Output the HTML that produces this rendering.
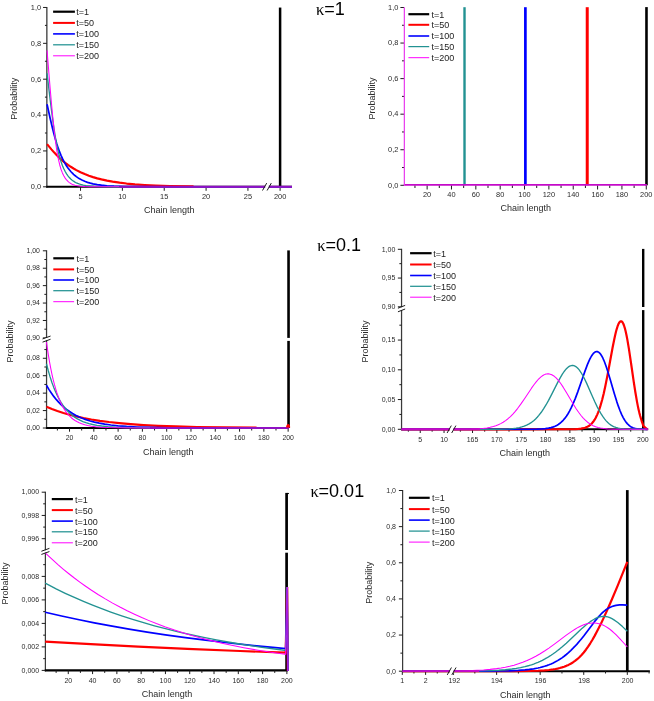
<!DOCTYPE html>
<html><head><meta charset="utf-8"><title>Chain length probability</title>
<style>html,body{margin:0;padding:0;background:#fff;}body{width:654px;height:701px;overflow:hidden;font-family:"Liberation Sans",sans-serif;}svg{display:block;will-change:transform;}</style></head>
<body>
<svg width="654" height="701" viewBox="0 0 654 701">
<rect width="654" height="701" fill="#ffffff"/>
<line x1="46.85" y1="6.96" x2="46.85" y2="187.8" stroke="#3a3a3a" stroke-width="1.3" stroke-linecap="butt"/>
<line x1="46.2" y1="186.8" x2="292" y2="186.8" stroke="#000000" stroke-width="2" stroke-linecap="butt"/>
<line x1="43.05" y1="186.8" x2="46.85" y2="186.8" stroke="#1c1c1c" stroke-width="1" stroke-linecap="butt"/>
<text x="41.15" y="189.2" font-size="7.4" text-anchor="end" font-family="'Liberation Sans', sans-serif" fill="#2b2b2b">0,0</text>
<line x1="44.95" y1="168.87" x2="46.85" y2="168.87" stroke="#1c1c1c" stroke-width="1" stroke-linecap="butt"/>
<line x1="43.05" y1="150.93" x2="46.85" y2="150.93" stroke="#1c1c1c" stroke-width="1" stroke-linecap="butt"/>
<text x="41.15" y="153.33" font-size="7.4" text-anchor="end" font-family="'Liberation Sans', sans-serif" fill="#2b2b2b">0,2</text>
<line x1="44.95" y1="133" x2="46.85" y2="133" stroke="#1c1c1c" stroke-width="1" stroke-linecap="butt"/>
<line x1="43.05" y1="115.06" x2="46.85" y2="115.06" stroke="#1c1c1c" stroke-width="1" stroke-linecap="butt"/>
<text x="41.15" y="117.46" font-size="7.4" text-anchor="end" font-family="'Liberation Sans', sans-serif" fill="#2b2b2b">0,4</text>
<line x1="44.95" y1="97.13" x2="46.85" y2="97.13" stroke="#1c1c1c" stroke-width="1" stroke-linecap="butt"/>
<line x1="43.05" y1="79.2" x2="46.85" y2="79.2" stroke="#1c1c1c" stroke-width="1" stroke-linecap="butt"/>
<text x="41.15" y="81.6" font-size="7.4" text-anchor="end" font-family="'Liberation Sans', sans-serif" fill="#2b2b2b">0,6</text>
<line x1="44.95" y1="61.26" x2="46.85" y2="61.26" stroke="#1c1c1c" stroke-width="1" stroke-linecap="butt"/>
<line x1="43.05" y1="43.33" x2="46.85" y2="43.33" stroke="#1c1c1c" stroke-width="1" stroke-linecap="butt"/>
<text x="41.15" y="45.73" font-size="7.4" text-anchor="end" font-family="'Liberation Sans', sans-serif" fill="#2b2b2b">0,8</text>
<line x1="44.95" y1="25.39" x2="46.85" y2="25.39" stroke="#1c1c1c" stroke-width="1" stroke-linecap="butt"/>
<line x1="43.05" y1="7.46" x2="46.85" y2="7.46" stroke="#1c1c1c" stroke-width="1" stroke-linecap="butt"/>
<text x="41.15" y="9.86" font-size="7.4" text-anchor="end" font-family="'Liberation Sans', sans-serif" fill="#2b2b2b">1,0</text>
<line x1="80.53" y1="186.8" x2="80.53" y2="190.8" stroke="#1c1c1c" stroke-width="1" stroke-linecap="butt"/>
<text x="80.53" y="199.2" font-size="7.4" text-anchor="middle" font-family="'Liberation Sans', sans-serif" fill="#2b2b2b">5</text>
<line x1="122.38" y1="186.8" x2="122.38" y2="190.8" stroke="#1c1c1c" stroke-width="1" stroke-linecap="butt"/>
<text x="122.38" y="199.2" font-size="7.4" text-anchor="middle" font-family="'Liberation Sans', sans-serif" fill="#2b2b2b">10</text>
<line x1="164.23" y1="186.8" x2="164.23" y2="190.8" stroke="#1c1c1c" stroke-width="1" stroke-linecap="butt"/>
<text x="164.23" y="199.2" font-size="7.4" text-anchor="middle" font-family="'Liberation Sans', sans-serif" fill="#2b2b2b">15</text>
<line x1="206.08" y1="186.8" x2="206.08" y2="190.8" stroke="#1c1c1c" stroke-width="1" stroke-linecap="butt"/>
<text x="206.08" y="199.2" font-size="7.4" text-anchor="middle" font-family="'Liberation Sans', sans-serif" fill="#2b2b2b">20</text>
<line x1="247.93" y1="186.8" x2="247.93" y2="190.8" stroke="#1c1c1c" stroke-width="1" stroke-linecap="butt"/>
<text x="247.93" y="199.2" font-size="7.4" text-anchor="middle" font-family="'Liberation Sans', sans-serif" fill="#2b2b2b">25</text>
<line x1="280.1" y1="186.8" x2="280.1" y2="190.8" stroke="#1c1c1c" stroke-width="1" stroke-linecap="butt"/>
<text x="280.1" y="199.2" font-size="7.4" text-anchor="middle" font-family="'Liberation Sans', sans-serif" fill="#2b2b2b">200</text>
<text x="169.2" y="213" font-size="9" text-anchor="middle" font-family="'Liberation Sans', sans-serif" fill="#2b2b2b">Chain length</text>
<text transform="translate(17.1 98.7) rotate(-90)" font-size="9" text-anchor="middle" font-family="'Liberation Sans', sans-serif" fill="#2b2b2b">Probability</text>
<line x1="280.1" y1="7.56" x2="280.1" y2="186.8" stroke="#000000" stroke-width="2.5" stroke-linecap="butt"/>
<path d="M47.05 144.12 L51.41 149.36 L54.03 152.36 L56.81 155.33 L59.6 158.06 L62.39 160.55 L65.18 162.82 L67.97 164.9 L70.77 166.8 L73.55 168.53 L76.35 170.11 L80.53 172.23 L84.71 174.08 L88.9 175.7 L93.08 177.11 L97.27 178.34 L101.45 179.42 L107.03 180.64 L112.61 181.66 L119.59 182.7 L126.56 183.53 L134.94 184.31 L144.7 184.99 L155.86 185.54 L169.81 186 L189.34 186.37 L193.52 186.43" fill="none" stroke="#ff0000" stroke-width="2.2" stroke-linejoin="round" stroke-linecap="butt"/>
<path d="M47.05 104.3 L50.25 118.72 L52.68 128.97 L54.03 134.27 L55.42 139.34 L56.81 143.98 L58.21 148.16 L59.6 151.94 L61 155.34 L62.39 158.41 L63.79 161.17 L65.18 163.68 L66.58 165.94 L67.97 167.97 L69.37 169.81 L70.77 171.47 L72.16 172.96 L73.55 174.31 L74.95 175.53 L76.35 176.63 L77.74 177.63 L79.14 178.52 L80.53 179.33 L81.92 180.06 L84.71 181.31 L87.5 182.33 L90.3 183.16 L93.08 183.84 L97.27 184.62 L101.45 185.2 L107.03 185.74 L114.01 186.16 L123.77 186.49 L139.12 186.7 L176.78 186.79 L292 186.8" fill="none" stroke="#0000ff" stroke-width="1.7" stroke-linejoin="round" stroke-linecap="butt"/>
<path d="M47.05 73.28 L50.25 100.5 L51.41 109.76 L52.68 119.38 L54.03 128.83 L55.42 137.56 L56.81 145.13 L58.21 151.58 L59.6 157.03 L61 161.61 L62.39 165.47 L63.79 168.73 L65.18 171.51 L66.58 173.87 L67.97 175.87 L69.37 177.56 L70.77 178.97 L72.16 180.17 L73.55 181.19 L74.95 182.06 L76.35 182.79 L77.74 183.41 L79.14 183.93 L80.53 184.37 L83.32 185.06 L86.11 185.56 L90.3 186.04 L94.48 186.34 L101.45 186.6 L114.01 186.76 L200.5 186.8 L292 186.8" fill="none" stroke="#229292" stroke-width="1.35" stroke-linejoin="round" stroke-linecap="butt"/>
<path d="M47.05 50.5 L50.25 89.66 L51.41 102.81 L52.68 116.31 L54.03 129.31 L55.42 140.97 L56.81 150.62 L58.21 158.37 L59.6 164.49 L61 169.24 L62.39 172.92 L63.79 175.8 L65.18 178.12 L66.58 179.98 L67.97 181.44 L69.37 182.59 L70.77 183.47 L72.16 184.16 L73.55 184.72 L74.95 185.16 L76.35 185.51 L77.74 185.79 L80.53 186.17 L84.71 186.49 L90.3 186.68 L102.85 186.79 L292 186.8" fill="none" stroke="#ff00ff" stroke-width="1.05" stroke-linejoin="round" stroke-linecap="butt"/>
<line x1="119" y1="186.75" x2="292" y2="186.75" stroke="#9010c4" stroke-width="1.9" stroke-linecap="butt"/>
<rect x="265.2" y="184.6" width="3.6" height="4.4" fill="#fff"/>
<line x1="262.5" y1="190.5" x2="266.7" y2="183.1" stroke="#1c1c1c" stroke-width="1" stroke-linecap="butt"/>
<line x1="267.1" y1="190.5" x2="271.3" y2="183.1" stroke="#1c1c1c" stroke-width="1" stroke-linecap="butt"/>
<line x1="53.1" y1="11.7" x2="74.9" y2="11.7" stroke="#000000" stroke-width="2.2" stroke-linecap="butt"/>
<text x="76.3" y="15.1" font-size="9" text-anchor="start" font-family="'Liberation Sans', sans-serif" fill="#1c1c1c">t=1</text>
<line x1="53.1" y1="22.9" x2="74.9" y2="22.9" stroke="#ff0000" stroke-width="2" stroke-linecap="butt"/>
<text x="76.3" y="26.3" font-size="9" text-anchor="start" font-family="'Liberation Sans', sans-serif" fill="#1c1c1c">t=50</text>
<line x1="53.1" y1="33.9" x2="74.9" y2="33.9" stroke="#0000ff" stroke-width="1.6" stroke-linecap="butt"/>
<text x="76.3" y="37.3" font-size="9" text-anchor="start" font-family="'Liberation Sans', sans-serif" fill="#1c1c1c">t=100</text>
<line x1="53.1" y1="44.8" x2="74.9" y2="44.8" stroke="#229292" stroke-width="1.25" stroke-linecap="butt"/>
<text x="76.3" y="48.2" font-size="9" text-anchor="start" font-family="'Liberation Sans', sans-serif" fill="#1c1c1c">t=150</text>
<line x1="53.1" y1="55.8" x2="74.9" y2="55.8" stroke="#ff00ff" stroke-width="1" stroke-linecap="butt"/>
<text x="76.3" y="59.2" font-size="9" text-anchor="start" font-family="'Liberation Sans', sans-serif" fill="#1c1c1c">t=200</text>
<text x="316" y="15" font-size="16.5" text-anchor="start" font-family="'Liberation Serif', sans-serif" fill="#000">&#954;</text>
<text x="324.3" y="15" font-size="18" text-anchor="start" font-family="'Liberation Sans', sans-serif" fill="#000">=1</text>
<line x1="400.4" y1="185.3" x2="404" y2="185.3" stroke="#1c1c1c" stroke-width="1" stroke-linecap="butt"/>
<text x="398.4" y="187.6" font-size="7.4" text-anchor="end" font-family="'Liberation Sans', sans-serif" fill="#2b2b2b">0,0</text>
<line x1="402" y1="167.52" x2="404" y2="167.52" stroke="#1c1c1c" stroke-width="1" stroke-linecap="butt"/>
<line x1="400.4" y1="149.74" x2="404" y2="149.74" stroke="#1c1c1c" stroke-width="1" stroke-linecap="butt"/>
<text x="398.4" y="152.04" font-size="7.4" text-anchor="end" font-family="'Liberation Sans', sans-serif" fill="#2b2b2b">0,2</text>
<line x1="402" y1="131.96" x2="404" y2="131.96" stroke="#1c1c1c" stroke-width="1" stroke-linecap="butt"/>
<line x1="400.4" y1="114.18" x2="404" y2="114.18" stroke="#1c1c1c" stroke-width="1" stroke-linecap="butt"/>
<text x="398.4" y="116.48" font-size="7.4" text-anchor="end" font-family="'Liberation Sans', sans-serif" fill="#2b2b2b">0,4</text>
<line x1="402" y1="96.4" x2="404" y2="96.4" stroke="#1c1c1c" stroke-width="1" stroke-linecap="butt"/>
<line x1="400.4" y1="78.62" x2="404" y2="78.62" stroke="#1c1c1c" stroke-width="1" stroke-linecap="butt"/>
<text x="398.4" y="80.92" font-size="7.4" text-anchor="end" font-family="'Liberation Sans', sans-serif" fill="#2b2b2b">0,6</text>
<line x1="402" y1="60.84" x2="404" y2="60.84" stroke="#1c1c1c" stroke-width="1" stroke-linecap="butt"/>
<line x1="400.4" y1="43.06" x2="404" y2="43.06" stroke="#1c1c1c" stroke-width="1" stroke-linecap="butt"/>
<text x="398.4" y="45.36" font-size="7.4" text-anchor="end" font-family="'Liberation Sans', sans-serif" fill="#2b2b2b">0,8</text>
<line x1="402" y1="25.28" x2="404" y2="25.28" stroke="#1c1c1c" stroke-width="1" stroke-linecap="butt"/>
<line x1="400.4" y1="7.5" x2="404" y2="7.5" stroke="#1c1c1c" stroke-width="1" stroke-linecap="butt"/>
<text x="398.4" y="9.8" font-size="7.4" text-anchor="end" font-family="'Liberation Sans', sans-serif" fill="#2b2b2b">1,0</text>
<line x1="414.96" y1="185.3" x2="414.96" y2="188" stroke="#1c1c1c" stroke-width="1" stroke-linecap="butt"/>
<line x1="427.13" y1="185.3" x2="427.13" y2="189.5" stroke="#1c1c1c" stroke-width="1" stroke-linecap="butt"/>
<text x="427.13" y="197.4" font-size="7.4" text-anchor="middle" font-family="'Liberation Sans', sans-serif" fill="#2b2b2b">20</text>
<line x1="439.31" y1="185.3" x2="439.31" y2="188" stroke="#1c1c1c" stroke-width="1" stroke-linecap="butt"/>
<line x1="451.48" y1="185.3" x2="451.48" y2="189.5" stroke="#1c1c1c" stroke-width="1" stroke-linecap="butt"/>
<text x="451.48" y="197.4" font-size="7.4" text-anchor="middle" font-family="'Liberation Sans', sans-serif" fill="#2b2b2b">40</text>
<line x1="463.66" y1="185.3" x2="463.66" y2="188" stroke="#1c1c1c" stroke-width="1" stroke-linecap="butt"/>
<line x1="475.83" y1="185.3" x2="475.83" y2="189.5" stroke="#1c1c1c" stroke-width="1" stroke-linecap="butt"/>
<text x="475.83" y="197.4" font-size="7.4" text-anchor="middle" font-family="'Liberation Sans', sans-serif" fill="#2b2b2b">60</text>
<line x1="488.01" y1="185.3" x2="488.01" y2="188" stroke="#1c1c1c" stroke-width="1" stroke-linecap="butt"/>
<line x1="500.18" y1="185.3" x2="500.18" y2="189.5" stroke="#1c1c1c" stroke-width="1" stroke-linecap="butt"/>
<text x="500.18" y="197.4" font-size="7.4" text-anchor="middle" font-family="'Liberation Sans', sans-serif" fill="#2b2b2b">80</text>
<line x1="512.36" y1="185.3" x2="512.36" y2="188" stroke="#1c1c1c" stroke-width="1" stroke-linecap="butt"/>
<line x1="524.53" y1="185.3" x2="524.53" y2="189.5" stroke="#1c1c1c" stroke-width="1" stroke-linecap="butt"/>
<text x="524.53" y="197.4" font-size="7.4" text-anchor="middle" font-family="'Liberation Sans', sans-serif" fill="#2b2b2b">100</text>
<line x1="536.71" y1="185.3" x2="536.71" y2="188" stroke="#1c1c1c" stroke-width="1" stroke-linecap="butt"/>
<line x1="548.88" y1="185.3" x2="548.88" y2="189.5" stroke="#1c1c1c" stroke-width="1" stroke-linecap="butt"/>
<text x="548.88" y="197.4" font-size="7.4" text-anchor="middle" font-family="'Liberation Sans', sans-serif" fill="#2b2b2b">120</text>
<line x1="561.06" y1="185.3" x2="561.06" y2="188" stroke="#1c1c1c" stroke-width="1" stroke-linecap="butt"/>
<line x1="573.23" y1="185.3" x2="573.23" y2="189.5" stroke="#1c1c1c" stroke-width="1" stroke-linecap="butt"/>
<text x="573.23" y="197.4" font-size="7.4" text-anchor="middle" font-family="'Liberation Sans', sans-serif" fill="#2b2b2b">140</text>
<line x1="585.41" y1="185.3" x2="585.41" y2="188" stroke="#1c1c1c" stroke-width="1" stroke-linecap="butt"/>
<line x1="597.58" y1="185.3" x2="597.58" y2="189.5" stroke="#1c1c1c" stroke-width="1" stroke-linecap="butt"/>
<text x="597.58" y="197.4" font-size="7.4" text-anchor="middle" font-family="'Liberation Sans', sans-serif" fill="#2b2b2b">160</text>
<line x1="609.76" y1="185.3" x2="609.76" y2="188" stroke="#1c1c1c" stroke-width="1" stroke-linecap="butt"/>
<line x1="621.93" y1="185.3" x2="621.93" y2="189.5" stroke="#1c1c1c" stroke-width="1" stroke-linecap="butt"/>
<text x="621.93" y="197.4" font-size="7.4" text-anchor="middle" font-family="'Liberation Sans', sans-serif" fill="#2b2b2b">180</text>
<line x1="634.11" y1="185.3" x2="634.11" y2="188" stroke="#1c1c1c" stroke-width="1" stroke-linecap="butt"/>
<line x1="646.28" y1="185.3" x2="646.28" y2="189.5" stroke="#1c1c1c" stroke-width="1" stroke-linecap="butt"/>
<text x="646.28" y="197.4" font-size="7.4" text-anchor="middle" font-family="'Liberation Sans', sans-serif" fill="#2b2b2b">200</text>
<text x="525.8" y="211.2" font-size="9" text-anchor="middle" font-family="'Liberation Sans', sans-serif" fill="#2b2b2b">Chain length</text>
<text transform="translate(374.5 98.6) rotate(-90)" font-size="9" text-anchor="middle" font-family="'Liberation Sans', sans-serif" fill="#2b2b2b">Probability</text>
<line x1="646.48" y1="7.1" x2="646.48" y2="185.3" stroke="#000000" stroke-width="2.6" stroke-linecap="butt"/>
<line x1="587.23" y1="7.2" x2="587.23" y2="185.3" stroke="#ff0000" stroke-width="3" stroke-linecap="butt"/>
<line x1="525.38" y1="7.2" x2="525.38" y2="185.3" stroke="#0000ff" stroke-width="2.7" stroke-linecap="butt"/>
<line x1="464.51" y1="7.2" x2="464.51" y2="185.3" stroke="#229292" stroke-width="2.4" stroke-linecap="butt"/>
<line x1="403.8" y1="184.9" x2="646.88" y2="184.9" stroke="#c40ac8" stroke-width="1.8" stroke-linecap="butt"/>
<line x1="404.35" y1="7.2" x2="404.35" y2="185.8" stroke="#e838ee" stroke-width="1.2" stroke-linecap="butt"/>
<line x1="408.4" y1="14.2" x2="429.2" y2="14.2" stroke="#000000" stroke-width="2.2" stroke-linecap="butt"/>
<text x="431.5" y="17.6" font-size="9" text-anchor="start" font-family="'Liberation Sans', sans-serif" fill="#1c1c1c">t=1</text>
<line x1="408.4" y1="24.8" x2="429.2" y2="24.8" stroke="#ff0000" stroke-width="2" stroke-linecap="butt"/>
<text x="431.5" y="28.2" font-size="9" text-anchor="start" font-family="'Liberation Sans', sans-serif" fill="#1c1c1c">t=50</text>
<line x1="408.4" y1="36" x2="429.2" y2="36" stroke="#0000ff" stroke-width="1.6" stroke-linecap="butt"/>
<text x="431.5" y="39.4" font-size="9" text-anchor="start" font-family="'Liberation Sans', sans-serif" fill="#1c1c1c">t=100</text>
<line x1="408.4" y1="46.6" x2="429.2" y2="46.6" stroke="#229292" stroke-width="1.25" stroke-linecap="butt"/>
<text x="431.5" y="50" font-size="9" text-anchor="start" font-family="'Liberation Sans', sans-serif" fill="#1c1c1c">t=150</text>
<line x1="408.4" y1="57.7" x2="429.2" y2="57.7" stroke="#ff00ff" stroke-width="1" stroke-linecap="butt"/>
<text x="431.5" y="61.1" font-size="9" text-anchor="start" font-family="'Liberation Sans', sans-serif" fill="#1c1c1c">t=200</text>
<line x1="46.55" y1="250.3" x2="46.55" y2="429" stroke="#3a3a3a" stroke-width="1.25" stroke-linecap="butt"/>
<line x1="45.95" y1="428" x2="288.94" y2="428" stroke="#000000" stroke-width="2.1" stroke-linecap="butt"/>
<line x1="42.85" y1="428" x2="46.55" y2="428" stroke="#1c1c1c" stroke-width="1" stroke-linecap="butt"/>
<text x="39.85" y="430.2" font-size="6.9" text-anchor="end" font-family="'Liberation Sans', sans-serif" fill="#2b2b2b">0,00</text>
<line x1="44.35" y1="419.29" x2="46.55" y2="419.29" stroke="#1c1c1c" stroke-width="1" stroke-linecap="butt"/>
<line x1="42.85" y1="410.57" x2="46.55" y2="410.57" stroke="#1c1c1c" stroke-width="1" stroke-linecap="butt"/>
<text x="39.85" y="412.77" font-size="6.9" text-anchor="end" font-family="'Liberation Sans', sans-serif" fill="#2b2b2b">0,02</text>
<line x1="44.35" y1="401.86" x2="46.55" y2="401.86" stroke="#1c1c1c" stroke-width="1" stroke-linecap="butt"/>
<line x1="42.85" y1="393.14" x2="46.55" y2="393.14" stroke="#1c1c1c" stroke-width="1" stroke-linecap="butt"/>
<text x="39.85" y="395.34" font-size="6.9" text-anchor="end" font-family="'Liberation Sans', sans-serif" fill="#2b2b2b">0,04</text>
<line x1="44.35" y1="384.43" x2="46.55" y2="384.43" stroke="#1c1c1c" stroke-width="1" stroke-linecap="butt"/>
<line x1="42.85" y1="375.71" x2="46.55" y2="375.71" stroke="#1c1c1c" stroke-width="1" stroke-linecap="butt"/>
<text x="39.85" y="377.91" font-size="6.9" text-anchor="end" font-family="'Liberation Sans', sans-serif" fill="#2b2b2b">0,06</text>
<line x1="44.35" y1="367" x2="46.55" y2="367" stroke="#1c1c1c" stroke-width="1" stroke-linecap="butt"/>
<line x1="42.85" y1="358.28" x2="46.55" y2="358.28" stroke="#1c1c1c" stroke-width="1" stroke-linecap="butt"/>
<text x="39.85" y="360.48" font-size="6.9" text-anchor="end" font-family="'Liberation Sans', sans-serif" fill="#2b2b2b">0,08</text>
<line x1="44.35" y1="349.56" x2="46.55" y2="349.56" stroke="#1c1c1c" stroke-width="1" stroke-linecap="butt"/>
<line x1="42.85" y1="337.9" x2="46.55" y2="337.9" stroke="#1c1c1c" stroke-width="1" stroke-linecap="butt"/>
<text x="39.85" y="340.1" font-size="6.9" text-anchor="end" font-family="'Liberation Sans', sans-serif" fill="#2b2b2b">0,90</text>
<line x1="44.35" y1="329.19" x2="46.55" y2="329.19" stroke="#1c1c1c" stroke-width="1" stroke-linecap="butt"/>
<line x1="42.85" y1="320.48" x2="46.55" y2="320.48" stroke="#1c1c1c" stroke-width="1" stroke-linecap="butt"/>
<text x="39.85" y="322.68" font-size="6.9" text-anchor="end" font-family="'Liberation Sans', sans-serif" fill="#2b2b2b">0,92</text>
<line x1="44.35" y1="311.77" x2="46.55" y2="311.77" stroke="#1c1c1c" stroke-width="1" stroke-linecap="butt"/>
<line x1="42.85" y1="303.06" x2="46.55" y2="303.06" stroke="#1c1c1c" stroke-width="1" stroke-linecap="butt"/>
<text x="39.85" y="305.26" font-size="6.9" text-anchor="end" font-family="'Liberation Sans', sans-serif" fill="#2b2b2b">0,94</text>
<line x1="44.35" y1="294.35" x2="46.55" y2="294.35" stroke="#1c1c1c" stroke-width="1" stroke-linecap="butt"/>
<line x1="42.85" y1="285.64" x2="46.55" y2="285.64" stroke="#1c1c1c" stroke-width="1" stroke-linecap="butt"/>
<text x="39.85" y="287.84" font-size="6.9" text-anchor="end" font-family="'Liberation Sans', sans-serif" fill="#2b2b2b">0,96</text>
<line x1="44.35" y1="276.93" x2="46.55" y2="276.93" stroke="#1c1c1c" stroke-width="1" stroke-linecap="butt"/>
<line x1="42.85" y1="268.22" x2="46.55" y2="268.22" stroke="#1c1c1c" stroke-width="1" stroke-linecap="butt"/>
<text x="39.85" y="270.42" font-size="6.9" text-anchor="end" font-family="'Liberation Sans', sans-serif" fill="#2b2b2b">0,98</text>
<line x1="44.35" y1="259.51" x2="46.55" y2="259.51" stroke="#1c1c1c" stroke-width="1" stroke-linecap="butt"/>
<line x1="42.85" y1="250.8" x2="46.55" y2="250.8" stroke="#1c1c1c" stroke-width="1" stroke-linecap="butt"/>
<text x="39.85" y="253" font-size="6.9" text-anchor="end" font-family="'Liberation Sans', sans-serif" fill="#2b2b2b">1,00</text>
<line x1="57.38" y1="428" x2="57.38" y2="430.5" stroke="#1c1c1c" stroke-width="1" stroke-linecap="butt"/>
<line x1="69.53" y1="428" x2="69.53" y2="431.7" stroke="#1c1c1c" stroke-width="1" stroke-linecap="butt"/>
<text x="69.53" y="439.8" font-size="6.9" text-anchor="middle" font-family="'Liberation Sans', sans-serif" fill="#2b2b2b">20</text>
<line x1="81.67" y1="428" x2="81.67" y2="430.5" stroke="#1c1c1c" stroke-width="1" stroke-linecap="butt"/>
<line x1="93.82" y1="428" x2="93.82" y2="431.7" stroke="#1c1c1c" stroke-width="1" stroke-linecap="butt"/>
<text x="93.82" y="439.8" font-size="6.9" text-anchor="middle" font-family="'Liberation Sans', sans-serif" fill="#2b2b2b">40</text>
<line x1="105.96" y1="428" x2="105.96" y2="430.5" stroke="#1c1c1c" stroke-width="1" stroke-linecap="butt"/>
<line x1="118.11" y1="428" x2="118.11" y2="431.7" stroke="#1c1c1c" stroke-width="1" stroke-linecap="butt"/>
<text x="118.11" y="439.8" font-size="6.9" text-anchor="middle" font-family="'Liberation Sans', sans-serif" fill="#2b2b2b">60</text>
<line x1="130.25" y1="428" x2="130.25" y2="430.5" stroke="#1c1c1c" stroke-width="1" stroke-linecap="butt"/>
<line x1="142.4" y1="428" x2="142.4" y2="431.7" stroke="#1c1c1c" stroke-width="1" stroke-linecap="butt"/>
<text x="142.4" y="439.8" font-size="6.9" text-anchor="middle" font-family="'Liberation Sans', sans-serif" fill="#2b2b2b">80</text>
<line x1="154.54" y1="428" x2="154.54" y2="430.5" stroke="#1c1c1c" stroke-width="1" stroke-linecap="butt"/>
<line x1="166.69" y1="428" x2="166.69" y2="431.7" stroke="#1c1c1c" stroke-width="1" stroke-linecap="butt"/>
<text x="166.69" y="439.8" font-size="6.9" text-anchor="middle" font-family="'Liberation Sans', sans-serif" fill="#2b2b2b">100</text>
<line x1="178.83" y1="428" x2="178.83" y2="430.5" stroke="#1c1c1c" stroke-width="1" stroke-linecap="butt"/>
<line x1="190.98" y1="428" x2="190.98" y2="431.7" stroke="#1c1c1c" stroke-width="1" stroke-linecap="butt"/>
<text x="190.98" y="439.8" font-size="6.9" text-anchor="middle" font-family="'Liberation Sans', sans-serif" fill="#2b2b2b">120</text>
<line x1="203.12" y1="428" x2="203.12" y2="430.5" stroke="#1c1c1c" stroke-width="1" stroke-linecap="butt"/>
<line x1="215.27" y1="428" x2="215.27" y2="431.7" stroke="#1c1c1c" stroke-width="1" stroke-linecap="butt"/>
<text x="215.27" y="439.8" font-size="6.9" text-anchor="middle" font-family="'Liberation Sans', sans-serif" fill="#2b2b2b">140</text>
<line x1="227.41" y1="428" x2="227.41" y2="430.5" stroke="#1c1c1c" stroke-width="1" stroke-linecap="butt"/>
<line x1="239.56" y1="428" x2="239.56" y2="431.7" stroke="#1c1c1c" stroke-width="1" stroke-linecap="butt"/>
<text x="239.56" y="439.8" font-size="6.9" text-anchor="middle" font-family="'Liberation Sans', sans-serif" fill="#2b2b2b">160</text>
<line x1="251.7" y1="428" x2="251.7" y2="430.5" stroke="#1c1c1c" stroke-width="1" stroke-linecap="butt"/>
<line x1="263.85" y1="428" x2="263.85" y2="431.7" stroke="#1c1c1c" stroke-width="1" stroke-linecap="butt"/>
<text x="263.85" y="439.8" font-size="6.9" text-anchor="middle" font-family="'Liberation Sans', sans-serif" fill="#2b2b2b">180</text>
<line x1="275.99" y1="428" x2="275.99" y2="430.5" stroke="#1c1c1c" stroke-width="1" stroke-linecap="butt"/>
<line x1="288.14" y1="428" x2="288.14" y2="431.7" stroke="#1c1c1c" stroke-width="1" stroke-linecap="butt"/>
<text x="288.14" y="439.8" font-size="6.9" text-anchor="middle" font-family="'Liberation Sans', sans-serif" fill="#2b2b2b">200</text>
<text x="168.3" y="455" font-size="9" text-anchor="middle" font-family="'Liberation Sans', sans-serif" fill="#2b2b2b">Chain length</text>
<text transform="translate(12.9 341.4) rotate(-90)" font-size="9" text-anchor="middle" font-family="'Liberation Sans', sans-serif" fill="#2b2b2b">Probability</text>
<line x1="288.54" y1="250.4" x2="288.54" y2="428" stroke="#000000" stroke-width="2.6" stroke-linecap="butt"/>
<rect x="285.14" y="337.9" width="6" height="3.0" fill="#fff"/>
<clipPath id="c3"><rect x="0" y="340.7" width="327" height="120"/></clipPath>
<path d="M46.45 406.82 L51.92 409.04 L57.38 411.03 L63.45 412.99 L69.53 414.73 L76.21 416.41 L83.49 418 L91.39 419.48 L99.89 420.82 L109 422.03 L119.32 423.16 L130.86 424.17 L143.61 425.04 L158.18 425.8 L175.79 426.46 L197.05 427 L224.37 427.42 L256.56 427.7" fill="none" stroke="#ff0000" stroke-width="2.2" stroke-linejoin="round" stroke-linecap="butt" clip-path="url(#c3)"/>
<path d="M46.45 385.3 L48.88 389.36 L51.31 393.06 L53.74 396.4 L56.17 399.42 L58.59 402.15 L61.02 404.62 L63.45 406.86 L66.49 409.35 L69.53 411.55 L72.56 413.49 L75.6 415.21 L78.63 416.72 L82.28 418.3 L85.92 419.65 L90.17 421 L94.42 422.13 L99.28 423.2 L104.75 424.17 L110.82 425.02 L118.11 425.8 L126.61 426.45 L136.93 426.99 L150.29 427.42 L168.51 427.73 L198.26 427.92 L284.49 428 L288.94 428" fill="none" stroke="#0000ff" stroke-width="1.7" stroke-linejoin="round" stroke-linecap="butt" clip-path="url(#c3)"/>
<path d="M46.45 363.77 L48.27 370.68 L50.09 376.9 L51.92 382.44 L53.74 387.39 L55.56 391.79 L57.38 395.72 L59.2 399.22 L61.02 402.34 L62.85 405.13 L64.67 407.61 L66.49 409.82 L68.31 411.79 L70.13 413.55 L72.56 415.6 L74.99 417.36 L77.42 418.87 L79.85 420.17 L82.88 421.53 L85.92 422.66 L88.96 423.59 L92.6 424.49 L96.85 425.32 L101.71 426.03 L107.78 426.65 L115.07 427.15 L124.79 427.54 L138.75 427.81 L164.26 427.96 L288.94 428" fill="none" stroke="#229292" stroke-width="1.35" stroke-linejoin="round" stroke-linecap="butt" clip-path="url(#c3)"/>
<path d="M46.45 342.16 L48.27 354.39 L49.49 361.64 L50.7 368.18 L51.92 374.07 L53.13 379.38 L54.34 384.17 L55.56 388.49 L56.77 392.38 L58.59 397.51 L60.42 401.9 L62.24 405.66 L64.06 408.88 L65.88 411.63 L67.7 413.99 L69.53 416.01 L71.35 417.74 L73.17 419.22 L74.99 420.48 L76.81 421.56 L79.24 422.77 L81.67 423.75 L84.71 424.72 L87.74 425.47 L91.39 426.15 L95.64 426.71 L101.1 427.19 L108.39 427.57 L118.71 427.82 L138.14 427.97 L288.94 428" fill="none" stroke="#ff00ff" stroke-width="1.05" stroke-linejoin="round" stroke-linecap="butt" clip-path="url(#c3)"/>
<line x1="150" y1="427.95" x2="288.94" y2="427.95" stroke="#9010c4" stroke-width="1.9" stroke-linecap="butt"/>
<path d="M286.0 427.6 Q286.3 424.2 288.2 424.0 Q290.0 424.2 290.2 427.6 Z" fill="#ff0000"/>
<rect x="44.55" y="337.9" width="4" height="2.4" fill="#fff"/>
<line x1="42.55" y1="338.95" x2="50.55" y2="336.05" stroke="#1c1c1c" stroke-width="1" stroke-linecap="butt"/>
<line x1="42.55" y1="342.15" x2="50.55" y2="339.25" stroke="#1c1c1c" stroke-width="1" stroke-linecap="butt"/>
<line x1="53.3" y1="258.3" x2="74.1" y2="258.3" stroke="#000000" stroke-width="2.2" stroke-linecap="butt"/>
<text x="76.4" y="261.7" font-size="9" text-anchor="start" font-family="'Liberation Sans', sans-serif" fill="#1c1c1c">t=1</text>
<line x1="53.3" y1="269.4" x2="74.1" y2="269.4" stroke="#ff0000" stroke-width="2" stroke-linecap="butt"/>
<text x="76.4" y="272.8" font-size="9" text-anchor="start" font-family="'Liberation Sans', sans-serif" fill="#1c1c1c">t=50</text>
<line x1="53.3" y1="280" x2="74.1" y2="280" stroke="#0000ff" stroke-width="1.6" stroke-linecap="butt"/>
<text x="76.4" y="283.4" font-size="9" text-anchor="start" font-family="'Liberation Sans', sans-serif" fill="#1c1c1c">t=100</text>
<line x1="53.3" y1="290.7" x2="74.1" y2="290.7" stroke="#229292" stroke-width="1.25" stroke-linecap="butt"/>
<text x="76.4" y="294.1" font-size="9" text-anchor="start" font-family="'Liberation Sans', sans-serif" fill="#1c1c1c">t=150</text>
<line x1="53.3" y1="301.7" x2="74.1" y2="301.7" stroke="#ff00ff" stroke-width="1" stroke-linecap="butt"/>
<text x="76.4" y="305.1" font-size="9" text-anchor="start" font-family="'Liberation Sans', sans-serif" fill="#1c1c1c">t=200</text>
<text x="317.2" y="251.1" font-size="16.5" text-anchor="start" font-family="'Liberation Serif', sans-serif" fill="#000">&#954;</text>
<text x="325.4" y="251.1" font-size="18" text-anchor="start" font-family="'Liberation Sans', sans-serif" fill="#000">=0.1</text>
<line x1="401.55" y1="248.8" x2="401.55" y2="430.3" stroke="#3a3a3a" stroke-width="1.25" stroke-linecap="butt"/>
<line x1="400.95" y1="429.3" x2="648.17" y2="429.3" stroke="#000000" stroke-width="2" stroke-linecap="butt"/>
<line x1="397.85" y1="429.3" x2="401.55" y2="429.3" stroke="#1c1c1c" stroke-width="1" stroke-linecap="butt"/>
<text x="395.35" y="431.6" font-size="7" text-anchor="end" font-family="'Liberation Sans', sans-serif" fill="#2b2b2b">0,00</text>
<line x1="399.35" y1="414.43" x2="401.55" y2="414.43" stroke="#1c1c1c" stroke-width="1" stroke-linecap="butt"/>
<line x1="397.85" y1="399.55" x2="401.55" y2="399.55" stroke="#1c1c1c" stroke-width="1" stroke-linecap="butt"/>
<text x="395.35" y="401.85" font-size="7" text-anchor="end" font-family="'Liberation Sans', sans-serif" fill="#2b2b2b">0,05</text>
<line x1="399.35" y1="384.68" x2="401.55" y2="384.68" stroke="#1c1c1c" stroke-width="1" stroke-linecap="butt"/>
<line x1="397.85" y1="369.8" x2="401.55" y2="369.8" stroke="#1c1c1c" stroke-width="1" stroke-linecap="butt"/>
<text x="395.35" y="372.1" font-size="7" text-anchor="end" font-family="'Liberation Sans', sans-serif" fill="#2b2b2b">0,10</text>
<line x1="399.35" y1="354.93" x2="401.55" y2="354.93" stroke="#1c1c1c" stroke-width="1" stroke-linecap="butt"/>
<line x1="397.85" y1="340.05" x2="401.55" y2="340.05" stroke="#1c1c1c" stroke-width="1" stroke-linecap="butt"/>
<text x="395.35" y="342.35" font-size="7" text-anchor="end" font-family="'Liberation Sans', sans-serif" fill="#2b2b2b">0,15</text>
<line x1="399.35" y1="325.18" x2="401.55" y2="325.18" stroke="#1c1c1c" stroke-width="1" stroke-linecap="butt"/>
<line x1="397.85" y1="306.8" x2="401.55" y2="306.8" stroke="#1c1c1c" stroke-width="1" stroke-linecap="butt"/>
<text x="395.35" y="309.1" font-size="7" text-anchor="end" font-family="'Liberation Sans', sans-serif" fill="#2b2b2b">0,90</text>
<line x1="399.35" y1="292.42" x2="401.55" y2="292.42" stroke="#1c1c1c" stroke-width="1" stroke-linecap="butt"/>
<line x1="397.85" y1="278.05" x2="401.55" y2="278.05" stroke="#1c1c1c" stroke-width="1" stroke-linecap="butt"/>
<text x="395.35" y="280.35" font-size="7" text-anchor="end" font-family="'Liberation Sans', sans-serif" fill="#2b2b2b">0,95</text>
<line x1="399.35" y1="263.67" x2="401.55" y2="263.67" stroke="#1c1c1c" stroke-width="1" stroke-linecap="butt"/>
<line x1="397.85" y1="249.3" x2="401.55" y2="249.3" stroke="#1c1c1c" stroke-width="1" stroke-linecap="butt"/>
<text x="395.35" y="251.6" font-size="7" text-anchor="end" font-family="'Liberation Sans', sans-serif" fill="#2b2b2b">1,00</text>
<line x1="408.34" y1="429.3" x2="408.34" y2="431.7" stroke="#1c1c1c" stroke-width="1" stroke-linecap="butt"/>
<line x1="420.24" y1="429.3" x2="420.24" y2="433" stroke="#1c1c1c" stroke-width="1" stroke-linecap="butt"/>
<text x="420.24" y="441.6" font-size="7" text-anchor="middle" font-family="'Liberation Sans', sans-serif" fill="#2b2b2b">5</text>
<line x1="432.14" y1="429.3" x2="432.14" y2="431.7" stroke="#1c1c1c" stroke-width="1" stroke-linecap="butt"/>
<line x1="444.04" y1="429.3" x2="444.04" y2="433" stroke="#1c1c1c" stroke-width="1" stroke-linecap="butt"/>
<text x="444.04" y="441.6" font-size="7" text-anchor="middle" font-family="'Liberation Sans', sans-serif" fill="#2b2b2b">10</text>
<line x1="460.35" y1="429.3" x2="460.35" y2="431.7" stroke="#1c1c1c" stroke-width="1" stroke-linecap="butt"/>
<line x1="472.52" y1="429.3" x2="472.52" y2="433" stroke="#1c1c1c" stroke-width="1" stroke-linecap="butt"/>
<text x="472.52" y="441.6" font-size="7" text-anchor="middle" font-family="'Liberation Sans', sans-serif" fill="#2b2b2b">165</text>
<line x1="484.69" y1="429.3" x2="484.69" y2="431.7" stroke="#1c1c1c" stroke-width="1" stroke-linecap="butt"/>
<line x1="496.86" y1="429.3" x2="496.86" y2="433" stroke="#1c1c1c" stroke-width="1" stroke-linecap="butt"/>
<text x="496.86" y="441.6" font-size="7" text-anchor="middle" font-family="'Liberation Sans', sans-serif" fill="#2b2b2b">170</text>
<line x1="509.03" y1="429.3" x2="509.03" y2="431.7" stroke="#1c1c1c" stroke-width="1" stroke-linecap="butt"/>
<line x1="521.2" y1="429.3" x2="521.2" y2="433" stroke="#1c1c1c" stroke-width="1" stroke-linecap="butt"/>
<text x="521.2" y="441.6" font-size="7" text-anchor="middle" font-family="'Liberation Sans', sans-serif" fill="#2b2b2b">175</text>
<line x1="533.37" y1="429.3" x2="533.37" y2="431.7" stroke="#1c1c1c" stroke-width="1" stroke-linecap="butt"/>
<line x1="545.54" y1="429.3" x2="545.54" y2="433" stroke="#1c1c1c" stroke-width="1" stroke-linecap="butt"/>
<text x="545.54" y="441.6" font-size="7" text-anchor="middle" font-family="'Liberation Sans', sans-serif" fill="#2b2b2b">180</text>
<line x1="557.71" y1="429.3" x2="557.71" y2="431.7" stroke="#1c1c1c" stroke-width="1" stroke-linecap="butt"/>
<line x1="569.88" y1="429.3" x2="569.88" y2="433" stroke="#1c1c1c" stroke-width="1" stroke-linecap="butt"/>
<text x="569.88" y="441.6" font-size="7" text-anchor="middle" font-family="'Liberation Sans', sans-serif" fill="#2b2b2b">185</text>
<line x1="582.05" y1="429.3" x2="582.05" y2="431.7" stroke="#1c1c1c" stroke-width="1" stroke-linecap="butt"/>
<line x1="594.22" y1="429.3" x2="594.22" y2="433" stroke="#1c1c1c" stroke-width="1" stroke-linecap="butt"/>
<text x="594.22" y="441.6" font-size="7" text-anchor="middle" font-family="'Liberation Sans', sans-serif" fill="#2b2b2b">190</text>
<line x1="606.39" y1="429.3" x2="606.39" y2="431.7" stroke="#1c1c1c" stroke-width="1" stroke-linecap="butt"/>
<line x1="618.56" y1="429.3" x2="618.56" y2="433" stroke="#1c1c1c" stroke-width="1" stroke-linecap="butt"/>
<text x="618.56" y="441.6" font-size="7" text-anchor="middle" font-family="'Liberation Sans', sans-serif" fill="#2b2b2b">195</text>
<line x1="630.73" y1="429.3" x2="630.73" y2="431.7" stroke="#1c1c1c" stroke-width="1" stroke-linecap="butt"/>
<line x1="642.9" y1="429.3" x2="642.9" y2="433" stroke="#1c1c1c" stroke-width="1" stroke-linecap="butt"/>
<text x="642.9" y="441.6" font-size="7" text-anchor="middle" font-family="'Liberation Sans', sans-serif" fill="#2b2b2b">200</text>
<text x="524.7" y="455.5" font-size="9" text-anchor="middle" font-family="'Liberation Sans', sans-serif" fill="#2b2b2b">Chain length</text>
<text transform="translate(368 341.4) rotate(-90)" font-size="9" text-anchor="middle" font-family="'Liberation Sans', sans-serif" fill="#2b2b2b">Probability</text>
<line x1="643.2" y1="248.9" x2="643.2" y2="429.3" stroke="#000000" stroke-width="2.4" stroke-linecap="butt"/>
<rect x="639.9" y="307.0" width="6" height="3.1" fill="#fff"/>
<clipPath id="c4"><rect x="327" y="310.2" width="327" height="130"/></clipPath>
<path d="M401.55 429.3 L568.84 429.27 L575.33 429.14 L578.58 428.94 L581.01 428.67 L583.45 428.2 L585.07 427.74 L586.69 427.11 L588.31 426.27 L589.12 425.74 L589.94 425.14 L590.75 424.45 L591.56 423.67 L592.37 422.78 L593.18 421.77 L593.99 420.64 L594.8 419.36 L595.62 417.94 L596.43 416.35 L597.24 414.6 L598.05 412.66 L598.86 410.53 L599.67 408.2 L600.48 405.66 L602.11 399.95 L603.73 393.41 L605.35 386.04 L607.79 373.72 L612.65 347.27 L614.28 339.16 L615.09 335.47 L615.9 332.08 L616.71 329.06 L617.52 326.46 L618.33 324.33 L619.14 322.72 L619.96 321.69 L620.77 321.23 L621.58 321.37 L622.39 322.12 L623.2 323.48 L624.01 325.46 L624.82 328.07 L625.63 331.25 L626.45 334.96 L627.26 339.13 L628.88 348.67 L631.31 364.98 L633.75 381.8 L635.37 392.28 L636.99 401.68 L637.8 405.89 L638.62 409.7 L639.42 413.1 L640.21 416.08 L641.62 420.79 L643.48 426.23 L647.28 429.3" fill="none" stroke="#ff0000" stroke-width="2.2" stroke-linejoin="round" stroke-linecap="butt" clip-path="url(#c4)"/>
<path d="M401.55 429.3 L529.09 429.27 L537.2 429.14 L542.07 428.92 L545.31 428.63 L548.56 428.15 L550.99 427.61 L553.43 426.87 L555.05 426.22 L556.67 425.42 L558.29 424.46 L559.92 423.31 L561.54 421.93 L563.16 420.31 L564.78 418.41 L566.41 416.22 L568.03 413.71 L569.65 410.88 L571.28 407.71 L572.9 404.19 L575.33 398.34 L577.77 391.86 L581.82 380.2 L585.07 370.86 L587.5 364.4 L589.12 360.59 L589.94 358.88 L590.75 357.31 L591.56 355.91 L592.37 354.69 L593.18 353.65 L593.99 352.8 L594.8 352.17 L595.62 351.76 L596.43 351.57 L597.24 351.61 L598.05 351.88 L598.86 352.38 L599.67 353.1 L600.48 354.07 L601.29 355.25 L602.11 356.64 L602.92 358.24 L603.73 360.03 L604.54 362.01 L606.16 366.44 L607.79 371.4 L610.22 379.51 L614.28 393.49 L616.71 401.36 L618.33 406.16 L619.96 410.49 L621.58 414.31 L623.2 417.61 L624.01 419.06 L624.82 420.38 L625.63 421.58 L626.45 422.65 L627.26 423.62 L628.07 424.47 L628.88 425.23 L629.69 425.89 L630.5 426.46 L631.31 426.96 L632.94 427.74 L634.56 428.3 L636.18 428.68 L638.62 429.02 L642.2 429.24 L647.28 429.3" fill="none" stroke="#0000ff" stroke-width="1.7" stroke-linejoin="round" stroke-linecap="butt" clip-path="url(#c4)"/>
<path d="M401.55 429.3 L493.39 429.27 L503.12 429.13 L508.8 428.89 L512.86 428.57 L516.1 428.17 L519.35 427.57 L521.78 426.96 L524.22 426.17 L526.65 425.16 L529.09 423.9 L530.71 422.89 L532.33 421.73 L533.95 420.41 L535.58 418.93 L537.2 417.26 L538.82 415.41 L541.26 412.27 L543.69 408.7 L546.12 404.72 L548.56 400.37 L551.8 394.15 L557.48 382.88 L559.92 378.32 L562.35 374.18 L563.97 371.75 L565.6 369.65 L566.41 368.74 L567.22 367.93 L568.03 367.23 L568.84 366.64 L569.65 366.16 L570.46 365.81 L571.28 365.57 L572.09 365.47 L572.9 365.48 L573.71 365.63 L574.52 365.9 L575.33 366.3 L576.14 366.83 L576.95 367.49 L577.77 368.27 L578.58 369.16 L579.39 370.17 L581.01 372.51 L582.63 375.24 L584.26 378.3 L586.69 383.38 L591.56 394.44 L594.8 401.74 L597.24 406.84 L599.67 411.46 L601.29 414.22 L602.92 416.71 L604.54 418.93 L606.16 420.86 L607.79 422.52 L609.41 423.94 L611.03 425.12 L612.65 426.09 L614.28 426.87 L615.9 427.49 L618.33 428.18 L620.77 428.63 L624.01 428.99 L628.07 429.19 L636.99 429.29 L647.28 429.3" fill="none" stroke="#229292" stroke-width="1.35" stroke-linejoin="round" stroke-linecap="butt" clip-path="url(#c4)"/>
<path d="M401.55 429.3 L460.93 429.26 L471.48 429.1 L477.97 428.83 L482.84 428.44 L486.9 427.92 L490.14 427.32 L493.39 426.51 L495.82 425.73 L498.26 424.78 L500.69 423.62 L503.12 422.25 L505.56 420.62 L507.99 418.73 L510.43 416.56 L512.86 414.09 L515.29 411.34 L517.73 408.31 L520.97 403.9 L525.03 397.94 L531.52 388.17 L533.95 384.74 L536.39 381.6 L538.01 379.73 L539.63 378.07 L541.26 376.65 L542.88 375.49 L543.69 375.03 L544.5 374.63 L545.31 374.32 L546.12 374.08 L546.94 373.93 L547.75 373.85 L548.56 373.87 L549.37 373.96 L550.18 374.14 L550.99 374.4 L551.8 374.75 L552.61 375.18 L553.43 375.69 L554.24 376.28 L555.86 377.68 L557.48 379.37 L559.11 381.33 L560.73 383.52 L563.16 387.15 L566.41 392.47 L572.9 403.53 L576.14 408.72 L578.58 412.28 L581.01 415.48 L583.45 418.3 L585.07 419.95 L586.69 421.43 L588.31 422.74 L589.94 423.88 L591.56 424.86 L593.18 425.71 L595.62 426.73 L598.05 427.51 L600.48 428.08 L603.73 428.6 L607.79 428.97 L613.46 429.2 L624.82 429.3 L647.28 429.3" fill="none" stroke="#ff00ff" stroke-width="1.05" stroke-linejoin="round" stroke-linecap="butt" clip-path="url(#c4)"/>
<line x1="401.55" y1="429.25" x2="479.82" y2="429.25" stroke="#c40ac8" stroke-width="1.8" stroke-linecap="butt"/>
<line x1="645.33" y1="429.25" x2="648.17" y2="429.25" stroke="#c40ac8" stroke-width="1.8" stroke-linecap="butt"/>
<rect x="449.8" y="427.1" width="3.6" height="4.4" fill="#fff"/>
<line x1="447.1" y1="433" x2="451.3" y2="425.6" stroke="#1c1c1c" stroke-width="1" stroke-linecap="butt"/>
<line x1="451.7" y1="433" x2="455.9" y2="425.6" stroke="#1c1c1c" stroke-width="1" stroke-linecap="butt"/>
<rect x="399.55" y="307.2" width="4" height="2.8" fill="#fff"/>
<line x1="397.95" y1="308.2" x2="405.15" y2="305.4" stroke="#1c1c1c" stroke-width="1" stroke-linecap="butt"/>
<line x1="397.95" y1="311.8" x2="405.15" y2="309" stroke="#1c1c1c" stroke-width="1" stroke-linecap="butt"/>
<line x1="410.1" y1="253.2" x2="431.6" y2="253.2" stroke="#000000" stroke-width="2.2" stroke-linecap="butt"/>
<text x="433.2" y="256.6" font-size="9" text-anchor="start" font-family="'Liberation Sans', sans-serif" fill="#1c1c1c">t=1</text>
<line x1="410.1" y1="264.5" x2="431.6" y2="264.5" stroke="#ff0000" stroke-width="2" stroke-linecap="butt"/>
<text x="433.2" y="267.9" font-size="9" text-anchor="start" font-family="'Liberation Sans', sans-serif" fill="#1c1c1c">t=50</text>
<line x1="410.1" y1="275.5" x2="431.6" y2="275.5" stroke="#0000ff" stroke-width="1.6" stroke-linecap="butt"/>
<text x="433.2" y="278.9" font-size="9" text-anchor="start" font-family="'Liberation Sans', sans-serif" fill="#1c1c1c">t=100</text>
<line x1="410.1" y1="286.3" x2="431.6" y2="286.3" stroke="#229292" stroke-width="1.25" stroke-linecap="butt"/>
<text x="433.2" y="289.7" font-size="9" text-anchor="start" font-family="'Liberation Sans', sans-serif" fill="#1c1c1c">t=150</text>
<line x1="410.1" y1="297.2" x2="431.6" y2="297.2" stroke="#ff00ff" stroke-width="1" stroke-linecap="butt"/>
<text x="433.2" y="300.6" font-size="9" text-anchor="start" font-family="'Liberation Sans', sans-serif" fill="#1c1c1c">t=200</text>
<line x1="45.4" y1="491.7" x2="45.4" y2="671.4" stroke="#3a3a3a" stroke-width="1.25" stroke-linecap="butt"/>
<line x1="44.8" y1="670.4" x2="287.69" y2="670.4" stroke="#000000" stroke-width="2.1" stroke-linecap="butt"/>
<line x1="41.7" y1="670.4" x2="45.4" y2="670.4" stroke="#1c1c1c" stroke-width="1" stroke-linecap="butt"/>
<text x="39.1" y="672.6" font-size="7" text-anchor="end" font-family="'Liberation Sans', sans-serif" fill="#2b2b2b">0,000</text>
<line x1="43.2" y1="658.65" x2="45.4" y2="658.65" stroke="#1c1c1c" stroke-width="1" stroke-linecap="butt"/>
<line x1="41.7" y1="646.9" x2="45.4" y2="646.9" stroke="#1c1c1c" stroke-width="1" stroke-linecap="butt"/>
<text x="39.1" y="649.1" font-size="7" text-anchor="end" font-family="'Liberation Sans', sans-serif" fill="#2b2b2b">0,002</text>
<line x1="43.2" y1="635.15" x2="45.4" y2="635.15" stroke="#1c1c1c" stroke-width="1" stroke-linecap="butt"/>
<line x1="41.7" y1="623.4" x2="45.4" y2="623.4" stroke="#1c1c1c" stroke-width="1" stroke-linecap="butt"/>
<text x="39.1" y="625.6" font-size="7" text-anchor="end" font-family="'Liberation Sans', sans-serif" fill="#2b2b2b">0,004</text>
<line x1="43.2" y1="611.65" x2="45.4" y2="611.65" stroke="#1c1c1c" stroke-width="1" stroke-linecap="butt"/>
<line x1="41.7" y1="599.9" x2="45.4" y2="599.9" stroke="#1c1c1c" stroke-width="1" stroke-linecap="butt"/>
<text x="39.1" y="602.1" font-size="7" text-anchor="end" font-family="'Liberation Sans', sans-serif" fill="#2b2b2b">0,006</text>
<line x1="43.2" y1="588.15" x2="45.4" y2="588.15" stroke="#1c1c1c" stroke-width="1" stroke-linecap="butt"/>
<line x1="41.7" y1="576.4" x2="45.4" y2="576.4" stroke="#1c1c1c" stroke-width="1" stroke-linecap="butt"/>
<text x="39.1" y="578.6" font-size="7" text-anchor="end" font-family="'Liberation Sans', sans-serif" fill="#2b2b2b">0,008</text>
<line x1="43.2" y1="564.65" x2="45.4" y2="564.65" stroke="#1c1c1c" stroke-width="1" stroke-linecap="butt"/>
<line x1="41.7" y1="492.2" x2="45.4" y2="492.2" stroke="#1c1c1c" stroke-width="1" stroke-linecap="butt"/>
<text x="39.1" y="494.4" font-size="7" text-anchor="end" font-family="'Liberation Sans', sans-serif" fill="#2b2b2b">1,000</text>
<line x1="43.2" y1="503.82" x2="45.4" y2="503.82" stroke="#1c1c1c" stroke-width="1" stroke-linecap="butt"/>
<line x1="41.7" y1="515.45" x2="45.4" y2="515.45" stroke="#1c1c1c" stroke-width="1" stroke-linecap="butt"/>
<text x="39.1" y="517.65" font-size="7" text-anchor="end" font-family="'Liberation Sans', sans-serif" fill="#2b2b2b">0,998</text>
<line x1="43.2" y1="527.08" x2="45.4" y2="527.08" stroke="#1c1c1c" stroke-width="1" stroke-linecap="butt"/>
<line x1="41.7" y1="538.7" x2="45.4" y2="538.7" stroke="#1c1c1c" stroke-width="1" stroke-linecap="butt"/>
<text x="39.1" y="540.9" font-size="7" text-anchor="end" font-family="'Liberation Sans', sans-serif" fill="#2b2b2b">0,996</text>
<line x1="56.13" y1="670.4" x2="56.13" y2="672.9" stroke="#1c1c1c" stroke-width="1" stroke-linecap="butt"/>
<line x1="68.28" y1="670.4" x2="68.28" y2="674.1" stroke="#1c1c1c" stroke-width="1" stroke-linecap="butt"/>
<text x="68.28" y="682.8" font-size="7" text-anchor="middle" font-family="'Liberation Sans', sans-serif" fill="#2b2b2b">20</text>
<line x1="80.42" y1="670.4" x2="80.42" y2="672.9" stroke="#1c1c1c" stroke-width="1" stroke-linecap="butt"/>
<line x1="92.57" y1="670.4" x2="92.57" y2="674.1" stroke="#1c1c1c" stroke-width="1" stroke-linecap="butt"/>
<text x="92.57" y="682.8" font-size="7" text-anchor="middle" font-family="'Liberation Sans', sans-serif" fill="#2b2b2b">40</text>
<line x1="104.71" y1="670.4" x2="104.71" y2="672.9" stroke="#1c1c1c" stroke-width="1" stroke-linecap="butt"/>
<line x1="116.86" y1="670.4" x2="116.86" y2="674.1" stroke="#1c1c1c" stroke-width="1" stroke-linecap="butt"/>
<text x="116.86" y="682.8" font-size="7" text-anchor="middle" font-family="'Liberation Sans', sans-serif" fill="#2b2b2b">60</text>
<line x1="129" y1="670.4" x2="129" y2="672.9" stroke="#1c1c1c" stroke-width="1" stroke-linecap="butt"/>
<line x1="141.15" y1="670.4" x2="141.15" y2="674.1" stroke="#1c1c1c" stroke-width="1" stroke-linecap="butt"/>
<text x="141.15" y="682.8" font-size="7" text-anchor="middle" font-family="'Liberation Sans', sans-serif" fill="#2b2b2b">80</text>
<line x1="153.29" y1="670.4" x2="153.29" y2="672.9" stroke="#1c1c1c" stroke-width="1" stroke-linecap="butt"/>
<line x1="165.44" y1="670.4" x2="165.44" y2="674.1" stroke="#1c1c1c" stroke-width="1" stroke-linecap="butt"/>
<text x="165.44" y="682.8" font-size="7" text-anchor="middle" font-family="'Liberation Sans', sans-serif" fill="#2b2b2b">100</text>
<line x1="177.58" y1="670.4" x2="177.58" y2="672.9" stroke="#1c1c1c" stroke-width="1" stroke-linecap="butt"/>
<line x1="189.73" y1="670.4" x2="189.73" y2="674.1" stroke="#1c1c1c" stroke-width="1" stroke-linecap="butt"/>
<text x="189.73" y="682.8" font-size="7" text-anchor="middle" font-family="'Liberation Sans', sans-serif" fill="#2b2b2b">120</text>
<line x1="201.87" y1="670.4" x2="201.87" y2="672.9" stroke="#1c1c1c" stroke-width="1" stroke-linecap="butt"/>
<line x1="214.02" y1="670.4" x2="214.02" y2="674.1" stroke="#1c1c1c" stroke-width="1" stroke-linecap="butt"/>
<text x="214.02" y="682.8" font-size="7" text-anchor="middle" font-family="'Liberation Sans', sans-serif" fill="#2b2b2b">140</text>
<line x1="226.16" y1="670.4" x2="226.16" y2="672.9" stroke="#1c1c1c" stroke-width="1" stroke-linecap="butt"/>
<line x1="238.31" y1="670.4" x2="238.31" y2="674.1" stroke="#1c1c1c" stroke-width="1" stroke-linecap="butt"/>
<text x="238.31" y="682.8" font-size="7" text-anchor="middle" font-family="'Liberation Sans', sans-serif" fill="#2b2b2b">160</text>
<line x1="250.45" y1="670.4" x2="250.45" y2="672.9" stroke="#1c1c1c" stroke-width="1" stroke-linecap="butt"/>
<line x1="262.6" y1="670.4" x2="262.6" y2="674.1" stroke="#1c1c1c" stroke-width="1" stroke-linecap="butt"/>
<text x="262.6" y="682.8" font-size="7" text-anchor="middle" font-family="'Liberation Sans', sans-serif" fill="#2b2b2b">180</text>
<line x1="274.74" y1="670.4" x2="274.74" y2="672.9" stroke="#1c1c1c" stroke-width="1" stroke-linecap="butt"/>
<line x1="286.89" y1="670.4" x2="286.89" y2="674.1" stroke="#1c1c1c" stroke-width="1" stroke-linecap="butt"/>
<text x="286.89" y="682.8" font-size="7" text-anchor="middle" font-family="'Liberation Sans', sans-serif" fill="#2b2b2b">200</text>
<text x="167" y="696.6" font-size="9" text-anchor="middle" font-family="'Liberation Sans', sans-serif" fill="#2b2b2b">Chain length</text>
<text transform="translate(7.8 583.4) rotate(-90)" font-size="9" text-anchor="middle" font-family="'Liberation Sans', sans-serif" fill="#2b2b2b">Probability</text>
<line x1="286.6" y1="492.9" x2="286.6" y2="670.4" stroke="#000000" stroke-width="2.7" stroke-linecap="butt"/>
<line x1="286.6" y1="493.5" x2="288.9" y2="493.5" stroke="#000000" stroke-width="1.1" stroke-linecap="butt"/>
<rect x="282.89" y="550.0" width="6" height="2.7" fill="#fff"/>
<clipPath id="c5"><rect x="0" y="553" width="327" height="140"/></clipPath>
<path d="M45.2 641.61 L90.74 644.14 L138.11 646.54 L187.3 648.79 L240.13 650.98 L285.67 652.69 L287.19 586.97 L287.8 671.1" fill="none" stroke="#ff0000" stroke-width="2.2" stroke-linejoin="miter" stroke-linecap="butt" clip-path="url(#c5)"/>
<path d="M45.2 612.24 L61.6 616 L77.99 619.52 L94.39 622.82 L110.78 625.9 L129 629.09 L147.22 632.06 L165.44 634.81 L185.47 637.61 L205.51 640.18 L227.37 642.77 L249.24 645.13 L272.92 647.46 L285.67 648.63 L287.19 586.97 L287.8 671.1" fill="none" stroke="#0000ff" stroke-width="1.7" stroke-linejoin="miter" stroke-linecap="butt" clip-path="url(#c5)"/>
<path d="M45.2 583.21 L56.13 588.84 L65.24 593.27 L74.35 597.46 L83.46 601.42 L92.57 605.17 L101.67 608.71 L110.78 612.07 L121.71 615.85 L132.64 619.38 L143.57 622.69 L154.5 625.78 L165.44 628.68 L178.19 631.82 L190.94 634.72 L203.69 637.4 L216.44 639.88 L231.02 642.49 L245.59 644.88 L260.17 647.06 L276.56 649.29 L285.67 650.45 L287.19 586.97 L287.8 671.1" fill="none" stroke="#229292" stroke-width="1.35" stroke-linejoin="miter" stroke-linecap="butt" clip-path="url(#c5)"/>
<path d="M45.2 552.9 L52.49 559.71 L57.95 564.6 L63.42 569.28 L68.88 573.75 L74.35 578.03 L79.81 582.11 L85.28 586.02 L90.74 589.75 L98.03 594.47 L105.32 598.91 L112.6 603.09 L119.89 607.03 L127.18 610.74 L134.47 614.23 L141.75 617.52 L149.04 620.61 L156.33 623.53 L165.44 626.93 L174.54 630.09 L183.65 633.01 L192.76 635.73 L201.87 638.25 L210.98 640.58 L221.91 643.16 L232.84 645.51 L243.77 647.67 L256.52 649.94 L269.28 651.99 L283.34 654.02 L285.67 654.34 L287.19 586.97 L287.8 671.1" fill="none" stroke="#ff00ff" stroke-width="1.05" stroke-linejoin="miter" stroke-linecap="butt" clip-path="url(#c5)"/>
<path d="M286.52 635.15 L287.19 589.32 L287.74 670.8" fill="none" stroke="#a01ce0" stroke-width="1.3" stroke-linejoin="miter" stroke-linecap="butt"/>
<rect x="43.4" y="550.2" width="4" height="2.4" fill="#fff"/>
<line x1="41.4" y1="551.25" x2="49.4" y2="548.35" stroke="#1c1c1c" stroke-width="1" stroke-linecap="butt"/>
<line x1="41.4" y1="554.45" x2="49.4" y2="551.55" stroke="#1c1c1c" stroke-width="1" stroke-linecap="butt"/>
<line x1="51.8" y1="499.1" x2="72.9" y2="499.1" stroke="#000000" stroke-width="2.2" stroke-linecap="butt"/>
<text x="75.1" y="502.5" font-size="9" text-anchor="start" font-family="'Liberation Sans', sans-serif" fill="#1c1c1c">t=1</text>
<line x1="51.8" y1="510.1" x2="72.9" y2="510.1" stroke="#ff0000" stroke-width="2" stroke-linecap="butt"/>
<text x="75.1" y="513.5" font-size="9" text-anchor="start" font-family="'Liberation Sans', sans-serif" fill="#1c1c1c">t=50</text>
<line x1="51.8" y1="521.1" x2="72.9" y2="521.1" stroke="#0000ff" stroke-width="1.6" stroke-linecap="butt"/>
<text x="75.1" y="524.5" font-size="9" text-anchor="start" font-family="'Liberation Sans', sans-serif" fill="#1c1c1c">t=100</text>
<line x1="51.8" y1="531.8" x2="72.9" y2="531.8" stroke="#229292" stroke-width="1.25" stroke-linecap="butt"/>
<text x="75.1" y="535.2" font-size="9" text-anchor="start" font-family="'Liberation Sans', sans-serif" fill="#1c1c1c">t=150</text>
<line x1="51.8" y1="542.8" x2="72.9" y2="542.8" stroke="#ff00ff" stroke-width="1" stroke-linecap="butt"/>
<text x="75.1" y="546.2" font-size="9" text-anchor="start" font-family="'Liberation Sans', sans-serif" fill="#1c1c1c">t=200</text>
<text x="310.6" y="497" font-size="16.5" text-anchor="start" font-family="'Liberation Serif', sans-serif" fill="#000">&#954;</text>
<text x="318.6" y="497" font-size="18" text-anchor="start" font-family="'Liberation Sans', sans-serif" fill="#000">=0.01</text>
<line x1="402.6" y1="490" x2="402.6" y2="672.2" stroke="#3a3a3a" stroke-width="1.25" stroke-linecap="butt"/>
<line x1="402" y1="671.2" x2="649.88" y2="671.2" stroke="#000000" stroke-width="2" stroke-linecap="butt"/>
<line x1="398.9" y1="671.2" x2="402.6" y2="671.2" stroke="#1c1c1c" stroke-width="1" stroke-linecap="butt"/>
<text x="396" y="673.5" font-size="7" text-anchor="end" font-family="'Liberation Sans', sans-serif" fill="#2b2b2b">0,0</text>
<line x1="400.4" y1="653.13" x2="402.6" y2="653.13" stroke="#1c1c1c" stroke-width="1" stroke-linecap="butt"/>
<line x1="398.9" y1="635.06" x2="402.6" y2="635.06" stroke="#1c1c1c" stroke-width="1" stroke-linecap="butt"/>
<text x="396" y="637.36" font-size="7" text-anchor="end" font-family="'Liberation Sans', sans-serif" fill="#2b2b2b">0,2</text>
<line x1="400.4" y1="616.99" x2="402.6" y2="616.99" stroke="#1c1c1c" stroke-width="1" stroke-linecap="butt"/>
<line x1="398.9" y1="598.92" x2="402.6" y2="598.92" stroke="#1c1c1c" stroke-width="1" stroke-linecap="butt"/>
<text x="396" y="601.22" font-size="7" text-anchor="end" font-family="'Liberation Sans', sans-serif" fill="#2b2b2b">0,4</text>
<line x1="400.4" y1="580.85" x2="402.6" y2="580.85" stroke="#1c1c1c" stroke-width="1" stroke-linecap="butt"/>
<line x1="398.9" y1="562.78" x2="402.6" y2="562.78" stroke="#1c1c1c" stroke-width="1" stroke-linecap="butt"/>
<text x="396" y="565.08" font-size="7" text-anchor="end" font-family="'Liberation Sans', sans-serif" fill="#2b2b2b">0,6</text>
<line x1="400.4" y1="544.71" x2="402.6" y2="544.71" stroke="#1c1c1c" stroke-width="1" stroke-linecap="butt"/>
<line x1="398.9" y1="526.64" x2="402.6" y2="526.64" stroke="#1c1c1c" stroke-width="1" stroke-linecap="butt"/>
<text x="396" y="528.94" font-size="7" text-anchor="end" font-family="'Liberation Sans', sans-serif" fill="#2b2b2b">0,8</text>
<line x1="400.4" y1="508.57" x2="402.6" y2="508.57" stroke="#1c1c1c" stroke-width="1" stroke-linecap="butt"/>
<line x1="398.9" y1="490.5" x2="402.6" y2="490.5" stroke="#1c1c1c" stroke-width="1" stroke-linecap="butt"/>
<text x="396" y="492.8" font-size="7" text-anchor="end" font-family="'Liberation Sans', sans-serif" fill="#2b2b2b">1,0</text>
<line x1="402.3" y1="671.2" x2="402.3" y2="674.9" stroke="#1c1c1c" stroke-width="1" stroke-linecap="butt"/>
<text x="402.3" y="683.2" font-size="7" text-anchor="middle" font-family="'Liberation Sans', sans-serif" fill="#2b2b2b">1</text>
<line x1="413.95" y1="671.2" x2="413.95" y2="673.5" stroke="#1c1c1c" stroke-width="1" stroke-linecap="butt"/>
<line x1="425.6" y1="671.2" x2="425.6" y2="674.9" stroke="#1c1c1c" stroke-width="1" stroke-linecap="butt"/>
<text x="425.6" y="683.2" font-size="7" text-anchor="middle" font-family="'Liberation Sans', sans-serif" fill="#2b2b2b">2</text>
<line x1="437.25" y1="671.2" x2="437.25" y2="673.5" stroke="#1c1c1c" stroke-width="1" stroke-linecap="butt"/>
<line x1="453.56" y1="671.2" x2="453.56" y2="674.9" stroke="#1c1c1c" stroke-width="1" stroke-linecap="butt"/>
<text x="454.26" y="683.2" font-size="7" text-anchor="middle" font-family="'Liberation Sans', sans-serif" fill="#2b2b2b">192</text>
<line x1="474.84" y1="671.2" x2="474.84" y2="673.5" stroke="#1c1c1c" stroke-width="1" stroke-linecap="butt"/>
<line x1="496.62" y1="671.2" x2="496.62" y2="674.9" stroke="#1c1c1c" stroke-width="1" stroke-linecap="butt"/>
<text x="496.92" y="683.2" font-size="7" text-anchor="middle" font-family="'Liberation Sans', sans-serif" fill="#2b2b2b">194</text>
<line x1="518.4" y1="671.2" x2="518.4" y2="673.5" stroke="#1c1c1c" stroke-width="1" stroke-linecap="butt"/>
<line x1="540.18" y1="671.2" x2="540.18" y2="674.9" stroke="#1c1c1c" stroke-width="1" stroke-linecap="butt"/>
<text x="540.48" y="683.2" font-size="7" text-anchor="middle" font-family="'Liberation Sans', sans-serif" fill="#2b2b2b">196</text>
<line x1="561.96" y1="671.2" x2="561.96" y2="673.5" stroke="#1c1c1c" stroke-width="1" stroke-linecap="butt"/>
<line x1="583.74" y1="671.2" x2="583.74" y2="674.9" stroke="#1c1c1c" stroke-width="1" stroke-linecap="butt"/>
<text x="584.04" y="683.2" font-size="7" text-anchor="middle" font-family="'Liberation Sans', sans-serif" fill="#2b2b2b">198</text>
<line x1="605.52" y1="671.2" x2="605.52" y2="673.5" stroke="#1c1c1c" stroke-width="1" stroke-linecap="butt"/>
<line x1="627.3" y1="671.2" x2="627.3" y2="674.9" stroke="#1c1c1c" stroke-width="1" stroke-linecap="butt"/>
<text x="627.6" y="683.2" font-size="7" text-anchor="middle" font-family="'Liberation Sans', sans-serif" fill="#2b2b2b">200</text>
<line x1="649.08" y1="671.2" x2="649.08" y2="673.5" stroke="#1c1c1c" stroke-width="1" stroke-linecap="butt"/>
<text x="525.2" y="697.6" font-size="9" text-anchor="middle" font-family="'Liberation Sans', sans-serif" fill="#2b2b2b">Chain length</text>
<text transform="translate(372 582.7) rotate(-90)" font-size="9" text-anchor="middle" font-family="'Liberation Sans', sans-serif" fill="#2b2b2b">Probability</text>
<line x1="627.3" y1="490.1" x2="627.3" y2="671.2" stroke="#000000" stroke-width="2.7" stroke-linecap="butt"/>
<path d="M402.6 671.2 L514.04 671.16 L529.29 671.02 L538 670.75 L544.54 670.39 L548.89 670 L553.25 669.41 L555.43 669.02 L557.6 668.57 L559.78 668.03 L561.96 667.41 L564.14 666.69 L566.32 665.85 L568.49 664.88 L570.67 663.75 L572.85 662.44 L575.03 660.93 L577.21 659.21 L579.38 657.25 L581.56 655.02 L583.74 652.52 L585.92 649.72 L588.1 646.64 L590.27 643.29 L592.45 639.7 L594.63 635.87 L596.81 631.83 L598.99 627.6 L601.16 623.18 L603.34 618.61 L607.69 609.06 L611.96 599.28 L617.8 585.33 L627.3 561.88" fill="none" stroke="#ff0000" stroke-width="2.2" stroke-linejoin="round" stroke-linecap="butt"/>
<path d="M402.6 671.2 L483.55 671.15 L500.98 670.99 L509.69 670.79 L518.4 670.39 L524.93 669.9 L529.29 669.42 L533.65 668.79 L538 667.97 L540.18 667.48 L542.36 666.92 L544.54 666.29 L546.71 665.59 L548.89 664.8 L551.07 663.92 L553.25 662.93 L555.43 661.84 L557.6 660.63 L559.78 659.3 L561.96 657.83 L564.14 656.23 L566.32 654.49 L568.49 652.61 L570.67 650.6 L572.85 648.46 L575.03 646.2 L577.21 643.82 L579.38 641.31 L581.56 638.69 L583.74 635.96 L588.1 630.22 L592.45 624.4 L594.63 621.57 L596.81 618.86 L598.99 616.31 L601.16 613.96 L603.34 611.87 L605.52 610.07 L607.69 608.6 L609.85 607.43 L611.96 606.54 L614 605.88 L615.96 605.42 L617.8 605.13 L619.52 604.97 L622.48 604.92 L627.3 605.06" fill="none" stroke="#0000ff" stroke-width="1.7" stroke-linejoin="round" stroke-linecap="butt"/>
<path d="M402.6 671.2 L461.77 671.13 L479.2 670.94 L490.09 670.65 L498.8 670.23 L505.33 669.75 L511.87 669.04 L516.22 668.4 L520.58 667.62 L524.93 666.66 L529.29 665.48 L531.47 664.8 L533.65 664.05 L535.82 663.23 L538 662.34 L540.18 661.37 L542.36 660.31 L544.54 659.18 L546.71 657.96 L548.89 656.65 L551.07 655.26 L553.25 653.78 L555.43 652.22 L557.6 650.58 L559.78 648.85 L561.96 647.03 L566.32 643.16 L575.03 634.92 L581.56 628.82 L583.74 626.89 L585.92 625.04 L588.1 623.29 L590.27 621.68 L592.45 620.24 L594.63 618.98 L596.81 617.94 L598.99 617.14 L601.16 616.62 L603.34 616.4 L605.52 616.51 L607.69 616.95 L609.85 617.7 L611.96 618.7 L614 619.88 L615.96 621.19 L617.8 622.58 L619.52 623.98 L622.48 626.62 L627.3 631.18" fill="none" stroke="#229292" stroke-width="1.35" stroke-linejoin="round" stroke-linecap="butt"/>
<path d="M402.6 671.2 L455.24 670.97 L468.31 670.68 L477.02 670.32 L483.55 669.93 L490.09 669.37 L496.62 668.61 L500.98 667.97 L505.33 667.19 L509.69 666.25 L514.04 665.14 L518.4 663.83 L522.76 662.3 L527.11 660.54 L531.47 658.54 L535.82 656.29 L540.18 653.79 L544.54 651.04 L548.89 648.07 L555.43 643.34 L566.32 635.18 L570.67 632.06 L572.85 630.58 L575.03 629.2 L577.21 627.91 L579.38 626.74 L581.56 625.7 L583.74 624.82 L585.92 624.09 L588.1 623.54 L590.27 623.18 L592.45 623 L594.63 623.02 L596.81 623.25 L598.99 623.69 L601.16 624.35 L603.34 625.24 L605.52 626.37 L607.69 627.73 L609.85 629.28 L611.96 630.99 L614 632.79 L615.96 634.64 L619.52 638.28 L624.65 643.99 L627.3 646.99" fill="none" stroke="#ff00ff" stroke-width="1.05" stroke-linejoin="round" stroke-linecap="butt"/>
<line x1="402.6" y1="671.15" x2="479.2" y2="671.15" stroke="#c40ac8" stroke-width="1.8" stroke-linecap="butt"/>
<rect x="449.95" y="669" width="3.6" height="4.4" fill="#fff"/>
<line x1="447.25" y1="674.9" x2="451.45" y2="667.5" stroke="#1c1c1c" stroke-width="1" stroke-linecap="butt"/>
<line x1="451.85" y1="674.9" x2="456.05" y2="667.5" stroke="#1c1c1c" stroke-width="1" stroke-linecap="butt"/>
<line x1="408.9" y1="497.8" x2="429.7" y2="497.8" stroke="#000000" stroke-width="2.2" stroke-linecap="butt"/>
<text x="431.9" y="501.2" font-size="9" text-anchor="start" font-family="'Liberation Sans', sans-serif" fill="#1c1c1c">t=1</text>
<line x1="408.9" y1="509.1" x2="429.7" y2="509.1" stroke="#ff0000" stroke-width="2" stroke-linecap="butt"/>
<text x="431.9" y="512.5" font-size="9" text-anchor="start" font-family="'Liberation Sans', sans-serif" fill="#1c1c1c">t=50</text>
<line x1="408.9" y1="520.1" x2="429.7" y2="520.1" stroke="#0000ff" stroke-width="1.6" stroke-linecap="butt"/>
<text x="431.9" y="523.5" font-size="9" text-anchor="start" font-family="'Liberation Sans', sans-serif" fill="#1c1c1c">t=100</text>
<line x1="408.9" y1="531.1" x2="429.7" y2="531.1" stroke="#229292" stroke-width="1.25" stroke-linecap="butt"/>
<text x="431.9" y="534.5" font-size="9" text-anchor="start" font-family="'Liberation Sans', sans-serif" fill="#1c1c1c">t=150</text>
<line x1="408.9" y1="542.1" x2="429.7" y2="542.1" stroke="#ff00ff" stroke-width="1" stroke-linecap="butt"/>
<text x="431.9" y="545.5" font-size="9" text-anchor="start" font-family="'Liberation Sans', sans-serif" fill="#1c1c1c">t=200</text>
</svg>
</body></html>
